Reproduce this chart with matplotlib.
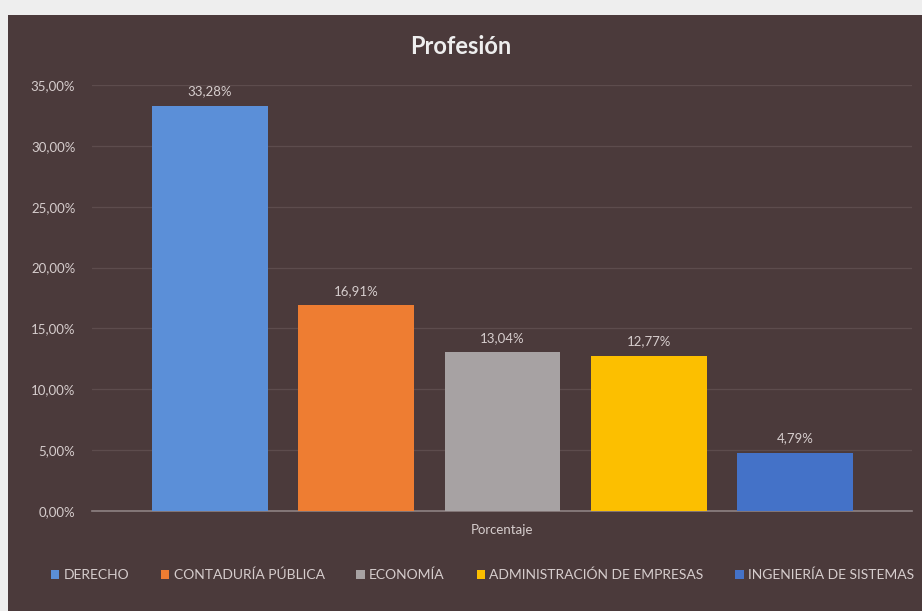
import matplotlib.pyplot as plt
from matplotlib.patches import Rectangle, Patch

categorias = ['DERECHO', 'CONTADURÍA PÚBLICA', 'ECONOMÍA',
              'ADMINISTRACIÓN DE EMPRESAS', 'INGENIERÍA DE SISTEMAS']
valores = [33.28, 16.91, 13.04, 12.77, 4.79]
colores = ['#5b8fd8', '#ee7d32', '#a7a2a3', '#fcbf00', '#4472c8']
yticks = [0, 5, 10, 15, 20, 25, 30, 35]

plt.rcParams['font.family'] = ['Lato', 'DejaVu Sans']
bg = '#4b3a3b'
txt = '#d6cdcd'

fig = plt.figure(figsize=(9.22, 6.11), dpi=100)
fig.patch.set_facecolor('#eeeeee')
fig.patches.append(Rectangle((8 / 922, 0), 1, 1 - 15 / 611, transform=fig.transFigure,
                             facecolor=bg, edgecolor='none', zorder=-5))

ax = fig.add_axes([92 / 922, 1 - 511 / 611, (912 - 92) / 922, (511 - 85) / 611])
ax.patch.set_alpha(0)

x = list(range(len(valores)))
ax.bar(x, valores, width=0.79, color=colores, zorder=3)
for xi, v in zip(x, valores):
    ax.text(xi, v + 0.7, '{:.2f}%'.format(v).replace('.', ','), ha='center', va='bottom',
            color=txt, fontsize=9.5)

ax.set_xlim(-0.807, 4.8)
ax.set_ylim(0, 35)
ax.set_yticks(yticks)
ax.set_yticklabels(['{:.2f}%'.format(t).replace('.', ',') for t in yticks], color=txt, fontsize=9.5)
ax.tick_params(axis='y', length=0, pad=12)
ax.set_xticks([])
ax.grid(axis='y', color='#5d4c4d', linewidth=0.9, zorder=0)
for s in ['top', 'right', 'left']:
    ax.spines[s].set_visible(False)
ax.spines['bottom'].set_color('#8e8283')
ax.spines['bottom'].set_linewidth(1.2)

fig.text((92 + 912) / 2 / 922, 1 - 530 / 611, 'Porcentaje', ha='center', va='center',
         color=txt, fontsize=9.5)
fig.text(0.5, 1 - 47 / 611, 'Profesión', ha='center', va='center', color='#eeeeee',
         fontsize=17, fontweight='bold')

handles = [Patch(facecolor=c, edgecolor='none') for c in colores]
fig.legend(handles, categorias, loc='center left', bbox_to_anchor=(44 / 922, 1 - 575 / 611),
           ncol=5, frameon=False, labelcolor=txt, fontsize=10, handlelength=0.6,
           handleheight=0.6, handletextpad=0.3, columnspacing=2.3, borderpad=0)

fig.savefig('out.png', dpi=100, facecolor=fig.get_facecolor())
